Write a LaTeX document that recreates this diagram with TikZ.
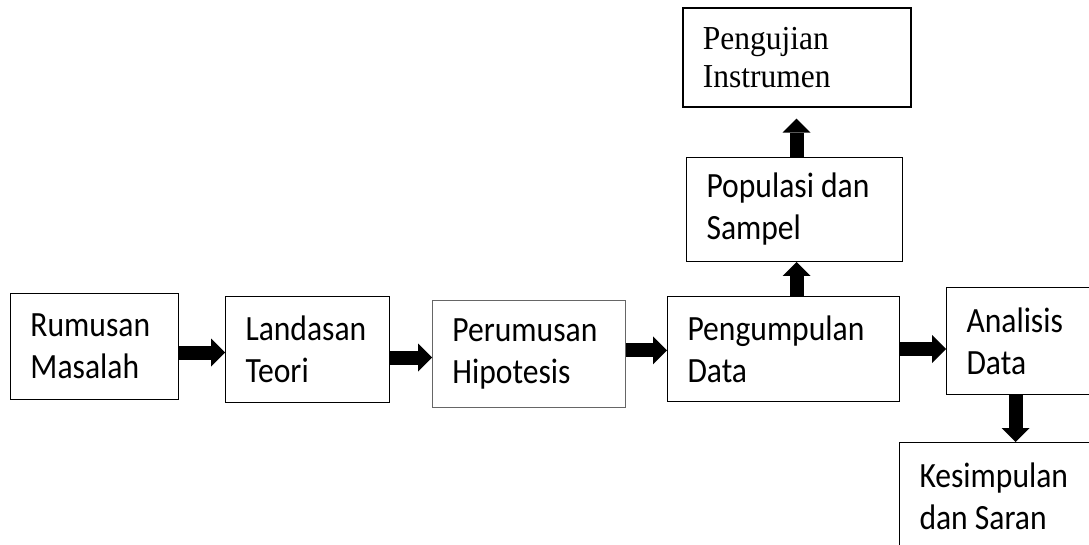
\documentclass[tikz,border=0pt]{standalone}
\usepackage{fontspec}
\setmainfont[FakeStretch=0.89]{Carlito}
\newfontfamily\serifbox[FakeStretch=0.94]{Liberation Serif}
\usetikzlibrary{arrows.meta}

\tikzset{
  stepbox/.style={draw, line width=1pt, anchor=north west, align=flush left,
    inner xsep=20pt, inner ysep=0pt, font=\fontsize{35.5}{42}\selectfont},
  fatarrow/.style={line width=14pt, -{Triangle[length=14pt,width=28pt,line width=0pt]}}
}

\begin{document}
\begin{tikzpicture}[x=1pt,y=-1pt]
    \useasboundingbox (0,0) rectangle (1089,545);
    \clip (0,0) rectangle (1089,545);

    % Main row of steps
    \node[stepbox, text width=128pt, minimum height=106pt] (rumusan) at (10,293) {Rumusan\\Masalah};
    \node[stepbox, text width=124pt, minimum height=106pt] (landasan) at (225,296) {Landasan\\Teori};
    \node[stepbox, draw=black!60, line width=0.8pt, text width=153pt, minimum height=107pt] (perumusan) at (432,300) {Perumusan\\Hipotesis};
    \node[stepbox, text width=192pt, minimum height=105pt] (pengumpulan) at (667,296) {Pengumpulan\\Data};
    \node[stepbox, text width=120pt, minimum height=107pt] (analisis) at (946,287) {Analisis\\Data};

    % Branch above and below
    \node[stepbox, text width=176pt, minimum height=104pt] (populasi) at (686,157) {Populasi dan\\Sampel};
    \node[stepbox, line width=1.6pt, text width=188pt, minimum height=99pt,
          font=\serifbox\fontsize{33.5}{38}\selectfont] (pengujian) at (682,7) {Pengujian\\Instrumen};
    \node[stepbox, text width=160pt, minimum height=108pt] (kesimpulan) at (899,442) {Kesimpulan\\dan Saran};

    % Horizontal block arrows
    \foreach \a/\b/\s in {rumusan/landasan/-6, landasan/perumusan/-8, perumusan/pengumpulan/3.5, pengumpulan/analisis/0} {
        \draw[fatarrow] ([yshift=\s pt]\a.east) -- ([yshift=\s pt]\a.east -| \b.west);
    }

    % Vertical block arrows
    \draw[fatarrow] ([xshift=13pt]pengumpulan.north) -- ([xshift=13pt]pengumpulan.north |- populasi.south);
    \draw[fatarrow, shorten >=11pt] ([xshift=2pt]populasi.north) -- ([xshift=2pt]populasi.north |- pengujian.south);
    \draw[fatarrow] ([xshift=-11pt]analisis.south) -- ([xshift=-11pt]analisis.south |- kesimpulan.north);
\end{tikzpicture}
\end{document}
